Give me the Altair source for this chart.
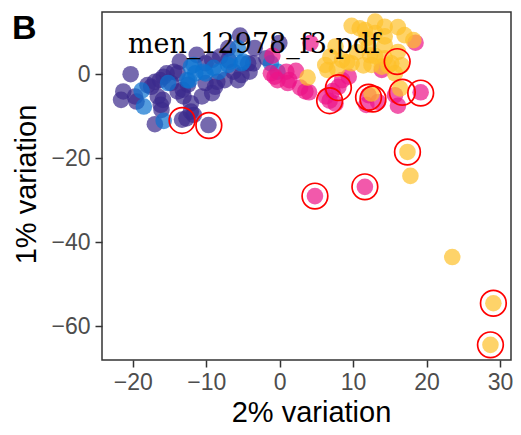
import altair as alt
import pandas as pd

purple_x = [-20.3, -21.3, -21.6, -19.7, -19.5, -17.5, -16.3, -15.4, -15.9, -16.1, -17.0, -16.6, -16.2,
            -13.6, -14.8, -13.9, -13.2, -12.1, -12.7, -13.3, -11.7, -9.7, -11.3, -8.1, -5.4, -6.3,
            -4.1, -3.6, -10.1, -9.2, -7.0, -4.3, -0.05, -1.8, -10.1, -8.8, -10.6, -9.2, -7.5, -5.7,
            -14.4, -15.8, -13.1, -18.0, -3.4, -7.0, -5.2, -17.0, -12.5, -12.1, -8.5, -13.9]
purple_y = [0.0, -4.1, -6.1, -5.3, -6.5, -3.0, -1.4, 0.2, -6.1, -8.5, -11.9, -5.3, -7.3,
            3.0, -2.1, 0.2, -3.7, -6.9, -10.5, -10.8, -9.7, -12.1, 4.6, 4.2, 9.2, 0.6,
            0.6, 2.6, 2.6, 3.4, 3.4, 2.6, 7.4, 3.8, -2.1, -3.0, -5.3, -4.5, -1.4, -1.4,
            0.6, -0.6, -5.3, -2.6, 6.2, 6.2, -0.2, -1.8, -2.5, -8.9, -1.8, -4.1]

blue_x = [-18.8, -18.5, -15.8, -15.2, -12.1, -12.3, -11.5, -10.1, -8.3, -7.0, -5.2, -5.7, -1.2,
          -0.3, -5.0, -6.8, -11.7, -10.4, -12.6, -9.0]
blue_y = [-3.9, -7.7, -11.1, -2.1, 1.8, -1.5, 0.2, 0.2, 0.6, 2.2, 2.6, 6.2, 2.6,
          0.6, 3.0, 3.0, 2.2, 0.6, -1.4, 1.5]

pink_x = [-1.0, -1.2, -0.3, 1.1, 0.9, 2.2, 1.3, 2.8, 4.0, 6.3, 7.2, 8.0, 7.6, 8.5, 9.4, 12.1,
          11.8, 4.2, 15.7, 16.1, 19.2, 13.4, 13.9, 18.5, 11.6, 4.8, 6.8, -0.7, 3.5]
pink_y = [4.4, 0.2, -1.4, -2.1, 0.6, 0.8, -1.4, -3.2, -4.3, -5.3, -4.0, -3.0, -7.0, -1.4, -0.6, -5.0,
          -7.3, 7.4, -5.0, -7.5, -4.3, -6.6, 1.0, 7.5, -26.8, -29.0, -6.3, -0.6, -4.1]

gold_x = [3.8, 6.2, 6.5, 6.9, 7.6, 7.8, 8.5, 9.2, 9.8, 9.8, 10.9, 11.6, 11.8, 10.5, 12.1, 12.3,
          11.4, 12.5, 13.0, 14.3, 16.1, 17.0, 18.2, 13.0, 14.3, 14.3, 16.1, 13.0, 14.3, 15.2,
          16.6, 14.8, 13.9, 15.7, 12.5, 16.4, 17.4, 17.8, 23.5, 29.1, 28.7]
gold_y = [-0.8, 2.2, 1.0, 4.2, 6.6, 1.3, 3.4, 2.9, 2.6, 11.5, 10.9, 10.5, 8.5, 5.3, 6.6, 4.5,
          2.1, 2.2, 12.5, 11.3, 11.2, 9.3, 8.1, 9.8, 9.0, 6.9, 5.3, 4.3, 3.8, 2.6,
          2.1, 2.1, 1.8, 0.2, -4.6, -3.4, -18.5, -24.2, -43.5, -54.5, -64.4]

circle_x = [-13.3, -9.65, 8.0, 6.8, 12.1, 12.7, 16.0, 16.7, 19.2, 17.4, 11.6, 4.8, 29.1, 28.7]
circle_y = [-11.0, -12.2, -3.2, -6.3, -5.5, -5.9, 3.0, -4.3, -4.5, -18.5, -26.8, -29.0, -54.5, -64.4]

x_ticks = [-20, -10, 0, 10, 20, 30]
y_ticks = [-60, -40, -20, 0]

groups = ["g1", "g2", "g3", "g4"]
colors = ["#3a2a8c", "#0b72d0", "#ec1388", "#fdc02a"]

rows = []
for g, xs, ys in zip(groups, [purple_x, blue_x, pink_x, gold_x], [purple_y, blue_y, pink_y, gold_y]):
    for x, y in zip(xs, ys):
        rows.append({"x": x, "y": y, "group": g})
df = pd.DataFrame(rows)
circ = pd.DataFrame({"x": circle_x, "y": circle_y})

W, H = 409, 348

xscale = alt.Scale(domain=[-24.2, 31.5], nice=False, zero=False)
yscale = alt.Scale(domain=[-68, 14.8], nice=False, zero=False)
xaxis = alt.Axis(values=x_ticks, title="2% variation", labelPadding=4,
                 titleX=209, titleY=61, titleBaseline="alphabetic", titleAlign="center")
yaxis = alt.Axis(values=y_ticks, title="1% variation", labelPadding=5,
                 titleX=-67, titleY=172, titleBaseline="alphabetic", titleAlign="center",
                 titleAngle=270)

points = alt.Chart(df).mark_circle(size=275, opacity=0.7).encode(
    x=alt.X("x:Q", scale=xscale, axis=xaxis),
    y=alt.Y("y:Q", scale=yscale, axis=yaxis),
    color=alt.Color("group:N", scale=alt.Scale(domain=groups, range=colors), legend=None),
)

rings = alt.Chart(circ).mark_point(shape="circle", size=660, filled=False, color="#ff0000",
                                   strokeWidth=1.7, opacity=1).encode(
    x=alt.X("x:Q", scale=xscale),
    y=alt.Y("y:Q", scale=yscale),
)

label = alt.Chart(pd.DataFrame({"x": [-3.5], "y": [5.1], "t": ["men_12978_f3.pdf"]})).mark_text(
    font="DejaVu Serif", fontSize=27, align="center", baseline="alphabetic", color="black"
).encode(x=alt.X("x:Q", scale=xscale), y=alt.Y("y:Q", scale=yscale), text="t:N")

panel = alt.Chart(pd.DataFrame({"t": ["B"]})).mark_text(
    font="Liberation Sans", fontSize=34, fontWeight="bold", align="left", baseline="alphabetic",
    color="black"
).encode(x=alt.value(-90), y=alt.value(27), text="t:N")

chart = alt.layer(points, rings, label, panel).properties(
    width=W, height=H,
    autosize=alt.AutoSizeParams(type="none"),
    padding={"left": 94, "top": 4, "right": 2, "bottom": 67},
).configure_view(stroke="#333333", strokeWidth=1.5).configure_axis(
    domain=False, grid=False, tickColor="#333333", tickWidth=1.5, tickSize=7,
    labelColor="#4d4d4d", labelFont="Liberation Sans", labelFontSize=23,
    titleFont="Liberation Sans", titleFontSize=29, titleFontWeight="normal", titleColor="black",
)

chart.save("out.html", embed_options={"renderer": "svg", "actions": False})
